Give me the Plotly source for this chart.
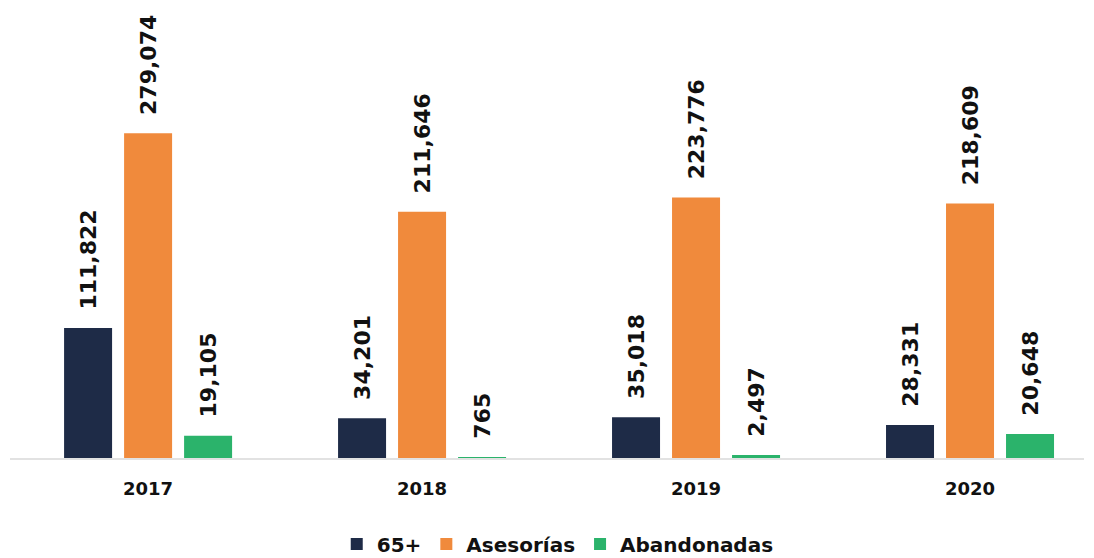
import plotly.graph_objects as go

years = ["2017", "2018", "2019", "2020"]
s_65 = [111822, 34201, 35018, 28331]
s_ases = [279074, 211646, 223776, 218609]
s_aban = [19105, 765, 2497, 20648]

names = ["65+", "Asesorías", "Abandonadas"]
colors = ["#1e2b47", "#f08a3c", "#2bb36b"]
series = [s_65, s_ases, s_aban]

fnt = "DejaVu Sans"
fig = go.Figure()
for nm, col, vals in zip(names, colors, series):
    fig.add_trace(go.Bar(
        x=years, y=vals, name=nm, marker=dict(color=col, line=dict(width=0)),
        texttemplate="\u00a0\u00a0%{y:,}", textposition="outside", textangle=-90,
        textfont=dict(family=fnt, size=22, color="#111", weight=700),
        cliponaxis=False, constraintext="none",
    ))

fig.update_layout(
    width=1094, height=558,
    margin=dict(l=10, r=10, t=10, b=100, autoexpand=False),
    barmode="group", bargap=0.343, bargroupgap=0.2,
    plot_bgcolor="white", paper_bgcolor="white",
    showlegend=True,
    legend=dict(orientation="h", x=0.51, xanchor="center", y=-0.192, yanchor="middle",
                font=dict(family=fnt, size=20, color="#111", weight=700),
                traceorder="normal"),
)
fig.update_xaxes(range=[-0.504, 3.416], automargin=False, showgrid=False, showline=True,
                 linecolor="#e2e2e2", linewidth=2, ticks="outside", ticklen=13,
                 tickcolor="rgba(0,0,0,0)",
                 tickfont=dict(family=fnt, size=18, color="#111", weight=700))
fig.update_yaxes(range=[0, 385000], visible=False)

fig.write_html("out.html", config={"displayModeBar": False})

# remove default page margin so the figure sits at the window's top-left corner
with open("out.html", encoding="utf-8") as f:
    html = f.read()
html = html.replace("<head>", "<head><style>html,body{margin:0;padding:0;overflow:hidden;}</style>", 1)
with open("out.html", "w", encoding="utf-8") as f:
    f.write(html)
